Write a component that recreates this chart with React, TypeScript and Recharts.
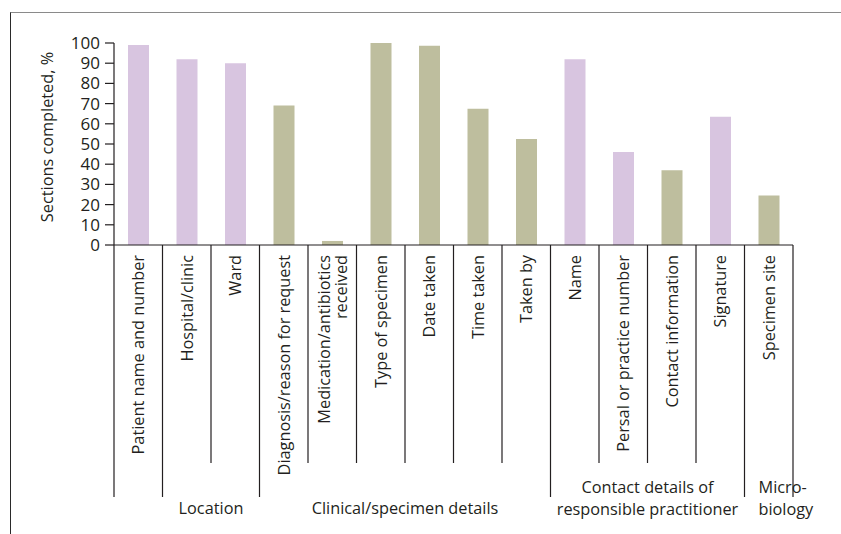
import { BarChart, Bar, XAxis, YAxis, Cell } from 'recharts';

const categories = [
  'Patient name and number',
  'Hospital/clinic',
  'Ward',
  'Diagnosis/reason for request',
  'Medication/antibiotics\nreceived',
  'Type of specimen',
  'Date taken',
  'Time taken',
  'Taken by',
  'Name',
  'Persal or practice number',
  'Contact information',
  'Signature',
  'Specimen site',
];

const completed = [99, 92, 90, 69, 2, 100, 98.6, 67.5, 52.5, 92, 46, 37, 63.5, 24.5];

// purple bars vs olive bars
const highlighted = [true, true, true, false, false, false, false, false, false, true, true, false, true, false];

const groupLabels = ['', 'Location', 'Clinical/specimen details', 'Contact details of\nresponsible practitioner', 'Micro-\nbiology'];
const groupSizes = [1, 2, 6, 4, 1];

const yTicks = [0, 10, 20, 30, 40, 50, 60, 70, 80, 90, 100];

const data = categories.map((name, i) => ({ name, value: completed[i], hl: highlighted[i] }));

const W = 841;
const H = 534;
const M = { top: 43, right: 48, bottom: 0, left: 0 };
const Y_W = 114;
const BAND = (W - M.left - M.right - Y_W) / categories.length;
const INK = '#231f20';
const FONT = '"Open Sans", sans-serif';

const groupStarts: number[] = [];
groupSizes.reduce((acc, n) => {
  groupStarts.push(acc);
  return acc + n;
}, 0);

function CategoryTick(props: any) {
  const { x, y, payload, index } = props;
  const lines = String(payload.value).split('\n');
  const left = x - BAND / 2;
  const g = groupStarts.indexOf(index);
  const isLast = index === categories.length - 1;
  return (
    <g>
      <line x1={left} x2={left} y1={y} y2={y + (g >= 0 ? 252 : 218)} stroke={INK} strokeWidth={1.2} />
      {isLast && <line x1={x + BAND / 2} x2={x + BAND / 2} y1={y} y2={y + 252} stroke={INK} strokeWidth={1.2} />}
      {lines.map((ln, k) => (
        <text
          key={k}
          transform={`translate(${x + (k - (lines.length - 1) / 2) * 17}, ${y + 10}) rotate(-90)`}
          textAnchor="end"
          dy="0.36em"
          fontSize={16.3}
          fontFamily={FONT}
          fill={INK}
        >
          {ln}
        </text>
      ))}
      {g >= 0 && groupLabels[g] &&
        groupLabels[g].split('\n').map((ln, k, arr) => {
          const narrow = groupSizes[g] === 1;
          const gx = narrow ? left + 14 : left + (groupSizes[g] * BAND) / 2;
          const gy = arr.length > 1 ? y + 248 + k * 22 : y + 269;
          return (
            <text key={'g' + k} x={gx} y={gy} textAnchor={narrow ? 'start' : 'middle'} fontSize={16.3} fontFamily={FONT} fill={INK}>
              {ln}
            </text>
          );
        })}
    </g>
  );
}

function YTitle(props: any) {
  const vb = props.viewBox;
  const cy = vb.y + vb.height / 2 - 7;
  return (
    <text transform={`translate(53, ${cy}) rotate(-90)`} textAnchor="middle" fontSize={16.3} fontFamily={FONT} fill={INK}>
      Sections completed, %
    </text>
  );
}

export default function App() {
  return (
    <div style={{ position: 'absolute', left: 0, top: 0, width: W, height: H, background: '#fff' }}>
      <div style={{ position: 'absolute', left: 10, top: 12, right: 0, bottom: 0, borderTop: '1.5px solid #8a8a8a', borderLeft: '1.5px solid #2a2a2a' }} />
      <div style={{ position: 'absolute', left: 0, top: 0 }}>
        <BarChart width={W} height={H} data={data} margin={M} barSize={21}>
          <XAxis
            dataKey="name"
            interval={0}
            tickLine={false}
            tickSize={0}
            tickMargin={0}
            height={H - 245}
            stroke={INK}
            strokeWidth={1.2}
            tick={<CategoryTick />}
          />
          <YAxis
            domain={[0, 100]}
            ticks={yTicks}
            interval={0}
            width={Y_W}
            tickSize={9}
            tickMargin={5}
            stroke={INK}
            strokeWidth={1.2}
            tick={{ fill: INK, fontSize: 17, fontFamily: FONT }}
            label={{ content: <YTitle /> }}
          />
          <Bar dataKey="value" isAnimationActive={false}>
            {data.map((d, i) => (
              <Cell key={i} fill={d.hl ? '#d8c5e0' : '#bebe9e'} />
            ))}
          </Bar>
        </BarChart>
      </div>
    </div>
  );
}
